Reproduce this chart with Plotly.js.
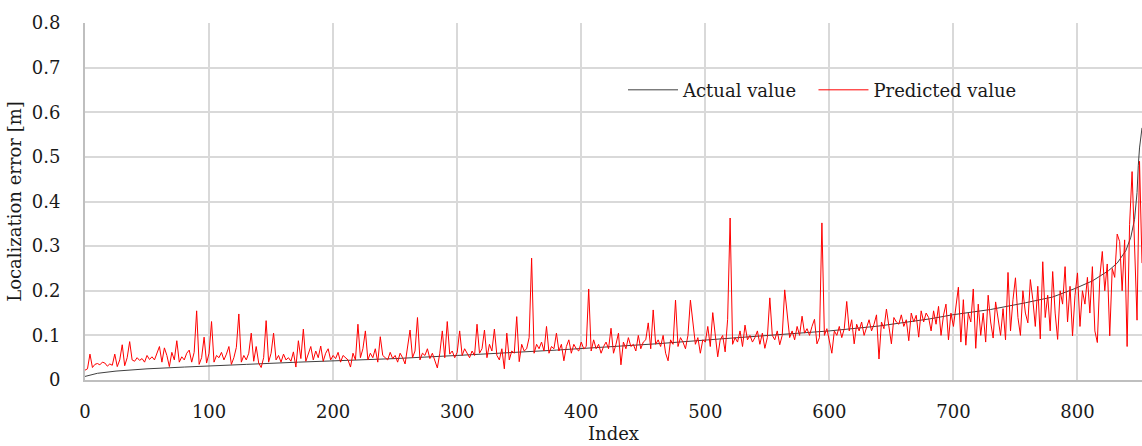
<!DOCTYPE html>
<html>
<head>
<meta charset="utf-8">
<script src="https://cdn.plot.ly/plotly-3.0.1.min.js"></script>
<style>html,body{margin:0;padding:0;background:#fff;}#chart{width:1142px;height:446px;}</style>
</head>
<body>
<div id="chart"></div>
<script>
// Actual value (sorted localization error), knots
const actualIndex = [0, 5, 10, 25, 50, 80, 100, 130, 172, 210, 250, 300, 343, 380, 420, 460, 512, 560, 600, 640, 681, 699, 730, 758, 780, 798, 812, 825, 832, 839, 843, 846, 848, 849, 850, 852];
const actualValue = [0.008, 0.012, 0.015, 0.020, 0.025, 0.029, 0.031, 0.035, 0.040, 0.044, 0.048, 0.055, 0.061, 0.067, 0.074, 0.081, 0.092, 0.101, 0.110, 0.121, 0.137, 0.146, 0.158, 0.173, 0.186, 0.205, 0.222, 0.245, 0.262, 0.290, 0.320, 0.360, 0.420, 0.480, 0.520, 0.565];

// Predicted value, read every 2nd index (0, 2, 4, ... 852)
const predictedStep = 2;
const predictedValue = [
0.022, 0.025, 0.058, 0.028, 0.035, 0.037, 0.034, 0.040, 0.038, 0.031,
0.036, 0.033, 0.058, 0.030, 0.045, 0.079, 0.032, 0.050, 0.086, 0.045,
0.042, 0.050, 0.044, 0.048, 0.040, 0.055, 0.046, 0.052, 0.045, 0.058,
0.075, 0.040, 0.072, 0.055, 0.030, 0.062, 0.045, 0.088, 0.040, 0.052,
0.045, 0.060, 0.067, 0.040, 0.062, 0.155, 0.035, 0.050, 0.096, 0.038,
0.060, 0.131, 0.040, 0.055, 0.050, 0.062, 0.045, 0.058, 0.075, 0.035,
0.050, 0.073, 0.148, 0.040, 0.055, 0.045, 0.060, 0.105, 0.042, 0.075,
0.038, 0.028, 0.050, 0.133, 0.040, 0.060, 0.105, 0.045, 0.055, 0.040,
0.058, 0.045, 0.050, 0.042, 0.063, 0.029, 0.088, 0.048, 0.114, 0.042,
0.058, 0.075, 0.045, 0.065, 0.050, 0.076, 0.042, 0.060, 0.070, 0.045,
0.055, 0.048, 0.062, 0.040, 0.055, 0.050, 0.045, 0.029, 0.060, 0.045,
0.125, 0.050, 0.070, 0.110, 0.045, 0.060, 0.050, 0.070, 0.040, 0.097,
0.055, 0.050, 0.045, 0.062, 0.048, 0.055, 0.040, 0.060, 0.050, 0.036,
0.070, 0.112, 0.050, 0.065, 0.140, 0.045, 0.060, 0.055, 0.070, 0.048,
0.060, 0.045, 0.027, 0.060, 0.110, 0.050, 0.131, 0.058, 0.065, 0.050,
0.062, 0.110, 0.055, 0.070, 0.060, 0.050, 0.065, 0.055, 0.125, 0.060,
0.070, 0.112, 0.050, 0.080, 0.065, 0.114, 0.055, 0.045, 0.070, 0.025,
0.105, 0.045, 0.065, 0.060, 0.142, 0.041, 0.080, 0.065, 0.070, 0.095,
0.273, 0.060, 0.080, 0.070, 0.085, 0.065, 0.120, 0.060, 0.075, 0.070,
0.105, 0.065, 0.080, 0.043, 0.075, 0.090, 0.060, 0.080, 0.070, 0.065,
0.085, 0.070, 0.075, 0.204, 0.065, 0.090, 0.070, 0.080, 0.060, 0.075,
0.085, 0.070, 0.116, 0.060, 0.080, 0.105, 0.034, 0.085, 0.070, 0.095,
0.075, 0.080, 0.065, 0.100, 0.070, 0.085, 0.090, 0.128, 0.070, 0.157,
0.080, 0.090, 0.075, 0.100, 0.060, 0.043, 0.090, 0.080, 0.179, 0.075,
0.095, 0.085, 0.070, 0.100, 0.179, 0.130, 0.080, 0.095, 0.060, 0.090,
0.085, 0.120, 0.075, 0.151, 0.095, 0.052, 0.090, 0.100, 0.063, 0.136,
0.363, 0.080, 0.095, 0.085, 0.110, 0.075, 0.123, 0.090, 0.100, 0.085,
0.095, 0.110, 0.080, 0.105, 0.071, 0.095, 0.184, 0.100, 0.090, 0.110,
0.079, 0.100, 0.202, 0.153, 0.095, 0.110, 0.090, 0.120, 0.100, 0.143,
0.105, 0.115, 0.100, 0.120, 0.136, 0.081, 0.095, 0.352, 0.100, 0.115,
0.090, 0.060, 0.110, 0.100, 0.120, 0.095, 0.115, 0.176, 0.110, 0.135,
0.081, 0.125, 0.110, 0.130, 0.100, 0.120, 0.135, 0.110, 0.125, 0.146,
0.047, 0.130, 0.115, 0.159, 0.120, 0.081, 0.140, 0.130, 0.125, 0.146,
0.120, 0.135, 0.088, 0.150, 0.130, 0.145, 0.096, 0.155, 0.130, 0.150,
0.140, 0.110, 0.155, 0.125, 0.165, 0.100, 0.145, 0.170, 0.090, 0.150,
0.120, 0.160, 0.208, 0.085, 0.180, 0.078, 0.150, 0.130, 0.204, 0.071,
0.170, 0.100, 0.150, 0.085, 0.190, 0.130, 0.094, 0.175, 0.140, 0.100,
0.160, 0.090, 0.241, 0.110, 0.180, 0.229, 0.140, 0.100, 0.200, 0.150,
0.128, 0.225, 0.180, 0.120, 0.210, 0.092, 0.265, 0.140, 0.190, 0.110,
0.243, 0.150, 0.091, 0.200, 0.170, 0.254, 0.130, 0.210, 0.099, 0.190,
0.240, 0.120, 0.200, 0.170, 0.230, 0.150, 0.254, 0.110, 0.084, 0.230,
0.288, 0.200, 0.260, 0.099, 0.250, 0.230, 0.327, 0.310, 0.200, 0.314,
0.075, 0.348, 0.467, 0.300, 0.134, 0.490, 0.262
];
const predictedIndex = predictedValue.map((_, k) => k * predictedStep);

const xTickValues = [0, 100, 200, 300, 400, 500, 600, 700, 800];
const yTickValues = [0, 0.1, 0.2, 0.3, 0.4, 0.5, 0.6, 0.7, 0.8];
const yTickLabels = ['0', '0.1', '0.2', '0.3', '0.4', '0.5', '0.6', '0.7', '0.8'];

const FONT = 'DejaVu Serif, serif';

const traces = [
  {
    x: actualIndex, y: actualValue, name: 'Actual value\u00A0\u00A0',
    type: 'scatter', mode: 'lines',
    line: {color: '#404040', width: 1}
  },
  {
    x: predictedIndex, y: predictedValue, name: 'Predicted value',
    type: 'scatter', mode: 'lines',
    line: {color: '#ff0000', width: 1}
  }
];

const layout = {
  width: 1142, height: 446,
  margin: {l: 85, r: 0, t: 23, b: 66, pad: 0},
  paper_bgcolor: '#ffffff', plot_bgcolor: '#ffffff',
  font: {family: FONT, size: 18, color: '#1a1a1a'},
  showlegend: true,
  legend: {
    orientation: 'h', x: 0.509, xanchor: 'left', y: 0.812, yanchor: 'middle',
    bgcolor: 'rgba(255,255,255,0)', font: {family: FONT, size: 18, color: '#1a1a1a'},
    itemwidth: 50, tracegroupgap: 0
  },
  xaxis: {
    range: [0, 852], tickvals: xTickValues, ticks: '',
    showgrid: true, gridcolor: '#d9d9d9', gridwidth: 2,
    showline: true, linecolor: '#bfbfbf', linewidth: 2,
    zeroline: false, ticklabelstandoff: 14,
    title: {text: 'Index', font: {family: FONT, size: 18}, standoff: 7}
  },
  yaxis: {
    range: [0, 0.8], tickvals: yTickValues, ticktext: yTickLabels, ticks: '',
    showgrid: true, gridcolor: '#d9d9d9', gridwidth: 2,
    showline: true, linecolor: '#bfbfbf', linewidth: 2,
    zeroline: false, ticklabelstandoff: 19,
    title: {text: 'Localization error [m]', font: {family: FONT, size: 18}, standoff: 5}
  }
};

Plotly.newPlot('chart', traces, layout, {staticPlot: true, displayModeBar: false});
</script>
</body>
</html>
